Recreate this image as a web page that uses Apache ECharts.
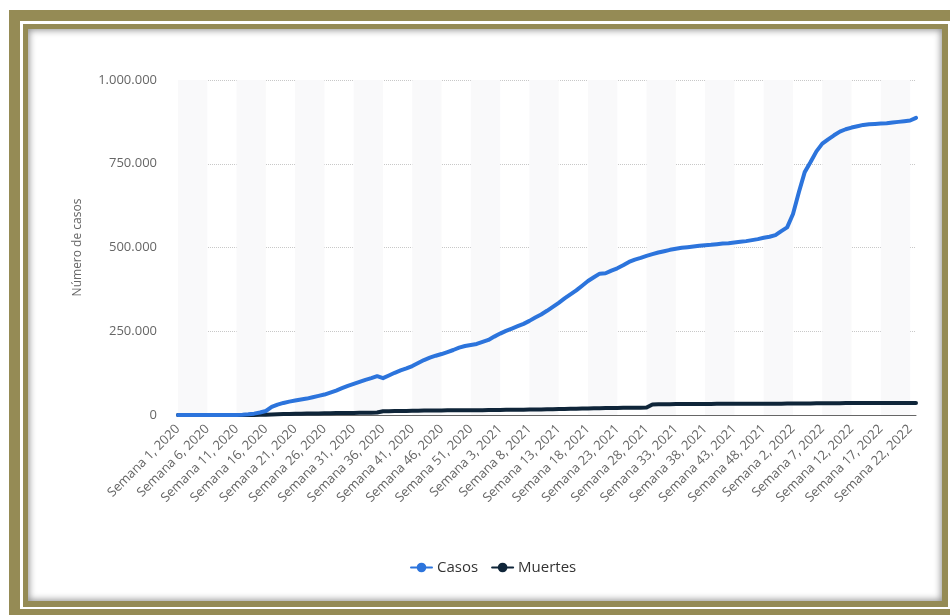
<!DOCTYPE html>
<html>
<head>
<meta charset="utf-8">
<script src="https://cdn.jsdelivr.net/npm/echarts@6/dist/echarts.min.js"></script>
<style>
  html, body { margin: 0; padding: 0; width: 950px; height: 615px; overflow: hidden; background: #fff; }
  .f { position: absolute; }
  #outer { left: 9px; top: 10px; width: 960px; height: 620px; background: #958b55; }
  #gap { left: 20px; top: 21px; width: 940px; height: 588px; background: #fff; }
  #inner { left: 23px; top: 24px; width: 925px; height: 583px; background: #958b55; }
  #panel { left: 28px; top: 29px; width: 914px; height: 572px; background: #fff; box-shadow: inset 0 0 7px 1px rgba(0,0,0,0.45); }
  #chart { position: absolute; left: 0; top: 0; width: 950px; height: 615px; }
</style>
</head>
<body>
<div class="f" id="outer"></div>
<div class="f" id="gap"></div>
<div class="f" id="inner"></div>
<div class="f" id="panel"></div>
<div id="chart"></div>
<script>
// Weeks: 2020 has 53 weeks, 2021 shown with 51, 2022 up to week 23
const weeks2020 = 53;
const weeks2021 = 51;
const weeks2022 = 23;
const categories = [];
for (let w = 1; w <= weeks2020; w++) categories.push('Semana ' + w + ', 2020');
for (let w = 1; w <= weeks2021; w++) categories.push('Semana ' + w + ', 2021');
for (let w = 1; w <= weeks2022; w++) categories.push('Semana ' + w + ', 2022');

const casos = [
  0, 0, 0, 0, 0, 0, 0, 0, 0, 10,
  200, 900, 2000, 4000, 7500, 12000, 24000, 31000, 36000, 40000,
  43000, 46000, 49000, 53000, 57000, 61000, 67000, 73000, 80000, 87000,
  93000, 99000, 105000, 110000, 116000, 110000, 118000, 126000, 133000, 139000,
  146000, 155000, 164000, 171000, 177000, 182000, 188000, 194000, 201000, 206000,
  209000, 212000, 218000, 224000, 234000, 243000, 251000, 258000, 265000, 272000,
  281000, 291000, 300000, 311000, 323000, 335000, 348000, 360000, 372000, 386000,
  400000, 411000, 422000, 423000, 431000, 438000, 447000, 457000, 464000, 469000,
  475000, 480000, 485000, 489000, 493000, 496000, 499000, 501000, 503000, 505000,
  507000, 508000, 510000, 512000, 513000, 515000, 517000, 519000, 522000, 525000,
  529000, 532000, 537000, 549000, 560000, 600000, 665000, 725000, 755000, 787000,
  810000, 823000, 835000, 846000, 853000, 858000, 862000, 866000, 868000, 869000,
  870000, 871000, 873000, 875000, 877000, 879000, 887000
];

const muertes = [
  0, 0, 0, 0, 0, 0, 0, 0, 0, 0,
  2, 30, 100, 300, 500, 900, 1500, 2200, 2900, 3300,
  3600, 3900, 4200, 4500, 4800, 5100, 5400, 5700, 5900, 6100,
  6300, 6500, 6800, 7000, 7300, 11000, 11300, 11600, 11900, 12200,
  12500, 12800, 13100, 13300, 13500, 13700, 13900, 14000, 14100, 14200,
  14300, 14400, 14500, 14700, 14900, 15100, 15300, 15500, 15700, 15900,
  16100, 16300, 16600, 16900, 17200, 17600, 18000, 18400, 18800, 19200,
  19600, 20000, 20300, 20600, 20900, 21200, 21400, 21600, 21800, 22000,
  22200, 31500, 31900, 32200, 32400, 32600, 32700, 32800, 32900, 33000,
  33100, 33200, 33300, 33400, 33500, 33550, 33600, 33650, 33700, 33750,
  33800, 33850, 33900, 33950, 34000, 34100, 34300, 34500, 34700, 34900,
  35100, 35250, 35350, 35400, 35450, 35500, 35530, 35560, 35580, 35600,
  35620, 35630, 35640, 35650, 35660, 35670, 35680
];

const yTicks = [0, 250000, 500000, 750000, 1000000];

const fmt = v => String(v).replace(/\B(?=(\d{3})+(?!\d))/g, '.');
const FONT = 'Open Sans';

const chart = echarts.init(document.getElementById('chart'), null, { renderer: 'canvas' });
chart.setOption({
  backgroundColor: 'transparent',
  animation: false,
  grid: { left: 178, right: 34, top: 80, bottom: 200, containLabel: false },
  legend: {
    left: 405, top: 555,
    itemWidth: 21, itemHeight: 12, itemGap: 13,
    textStyle: { color: '#333', fontSize: 15, fontFamily: FONT },
    data: ['Casos', 'Muertes']
  },
  xAxis: {
    type: 'category',
    data: categories,
    boundaryGap: false,
    axisLine: { show: true, lineStyle: { color: '#666', width: 1 } },
    axisTick: { show: false, interval: 4 },
    axisLabel: { interval: 4, rotate: 45, margin: 12, color: '#666', fontSize: 13, fontFamily: FONT },
    splitLine: { show: false },
    splitArea: { show: true, interval: 4, areaStyle: { color: ['#f9f9fa', 'rgba(255,255,255,0)'] } }
  },
  yAxis: {
    type: 'value',
    min: yTicks[0], max: yTicks[yTicks.length - 1], interval: yTicks[1] - yTicks[0],
    name: 'Número de casos',
    nameLocation: 'middle',
    nameGap: 94,
    nameTextStyle: { color: '#666', fontSize: 12, fontFamily: FONT },
    axisLine: { show: false },
    axisTick: { show: false },
    axisLabel: { margin: 21, color: '#666', fontSize: 13, fontFamily: FONT, formatter: v => fmt(v) },
    splitLine: { show: true, lineStyle: { color: '#c8c8c8', type: 'dotted', width: 1 } }
  },
  series: [
    {
      name: 'Casos', type: 'line', data: casos,
      symbol: 'circle', symbolSize: 8, showSymbol: false,
      lineStyle: { color: '#2c74dc', width: 4, cap: 'round', join: 'round' },
      itemStyle: { color: '#2c74dc' },
      z: 3
    },
    {
      name: 'Muertes', type: 'line', data: muertes,
      symbol: 'circle', symbolSize: 8, showSymbol: false,
      lineStyle: { color: '#0f2539', width: 4, cap: 'round', join: 'round' },
      itemStyle: { color: '#0f2539' },
      z: 2
    }
  ]
});
</script>
</body>
</html>
